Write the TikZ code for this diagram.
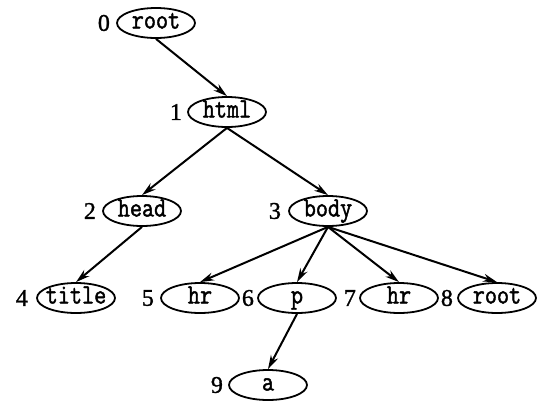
\documentclass[tikz,border=0pt]{standalone}
\usepackage{fontspec}
\newfontfamily\numfont[FakeBold=1.2]{Liberation Serif}
\newfontfamily\tagfont[FakeBold=1.5,FakeStretch=0.84]{Latin Modern Mono}
\usetikzlibrary{shapes.geometric,arrows.meta,positioning}
\begin{document}
\begin{tikzpicture}[x=1pt,y=-1pt,
  tag/.style={ellipse, draw, line width=1.8pt, minimum width=78pt, minimum height=30pt, inner xsep=-6pt, inner ysep=0pt, text height=14pt, text depth=3pt, font=\fontsize{28}{30}\selectfont\tagfont},
  idx/.style={inner sep=0pt, font=\fontsize{24}{26}\selectfont\numfont},
  link/.style={line width=2pt, -{Stealth[length=14pt,width=8pt]}}]
\useasboundingbox (0,0) rectangle (550,405);
\node[tag] (tag0) at (156,23){root};
\node[idx, left=6pt of tag0] (idx0){0};
\node[tag] (tag1) at (227,112){html};
\node[idx, left=5pt of tag1] (idx1){1};
\draw[link](tag0.south) -- (tag1.north);
\node[tag] (tag2) at (142,211){head};
\node[idx, left=6pt of tag2] (idx2){2};
\node[tag] (tag4) at (76,298){title};
\node[idx, left=8pt of tag4] (idx4){4};
\draw[link](tag2.south) -- (tag4.north);
\node[tag] (tag3) at (328,211){body};
\node[idx, left=7pt of tag3] (idx3){3};
\node[tag] (tag5) at (200,298){hr};
\node[idx, left=6pt of tag5] (idx5){5};
\node[tag] (tag6) at (297,298){p};
\node[idx, left=3pt of tag6] (idx6){6};
\node[tag] (tag9) at (268,385){a};
\node[idx, left=5pt of tag9] (idx9){9};
\draw[link](tag6.south) -- (tag9.north);
\node[tag] (tag7) at (399,298){hr};
\node[idx, left=3pt of tag7] (idx7){7};
\node[tag] (tag8) at (497,298){root};
\node[idx, left=4pt of tag8] (idx8){8};
\draw[link](tag3.south) -- (tag5.north);
\draw[link](tag3.south) -- (tag6.north);
\draw[link](tag3.south) -- (tag7.north);
\draw[link](tag3.south) -- (tag8.north);
\draw[link](tag1.south) -- (tag2.north);
\draw[link](tag1.south) -- (tag3.north);
\end{tikzpicture}
\end{document}
